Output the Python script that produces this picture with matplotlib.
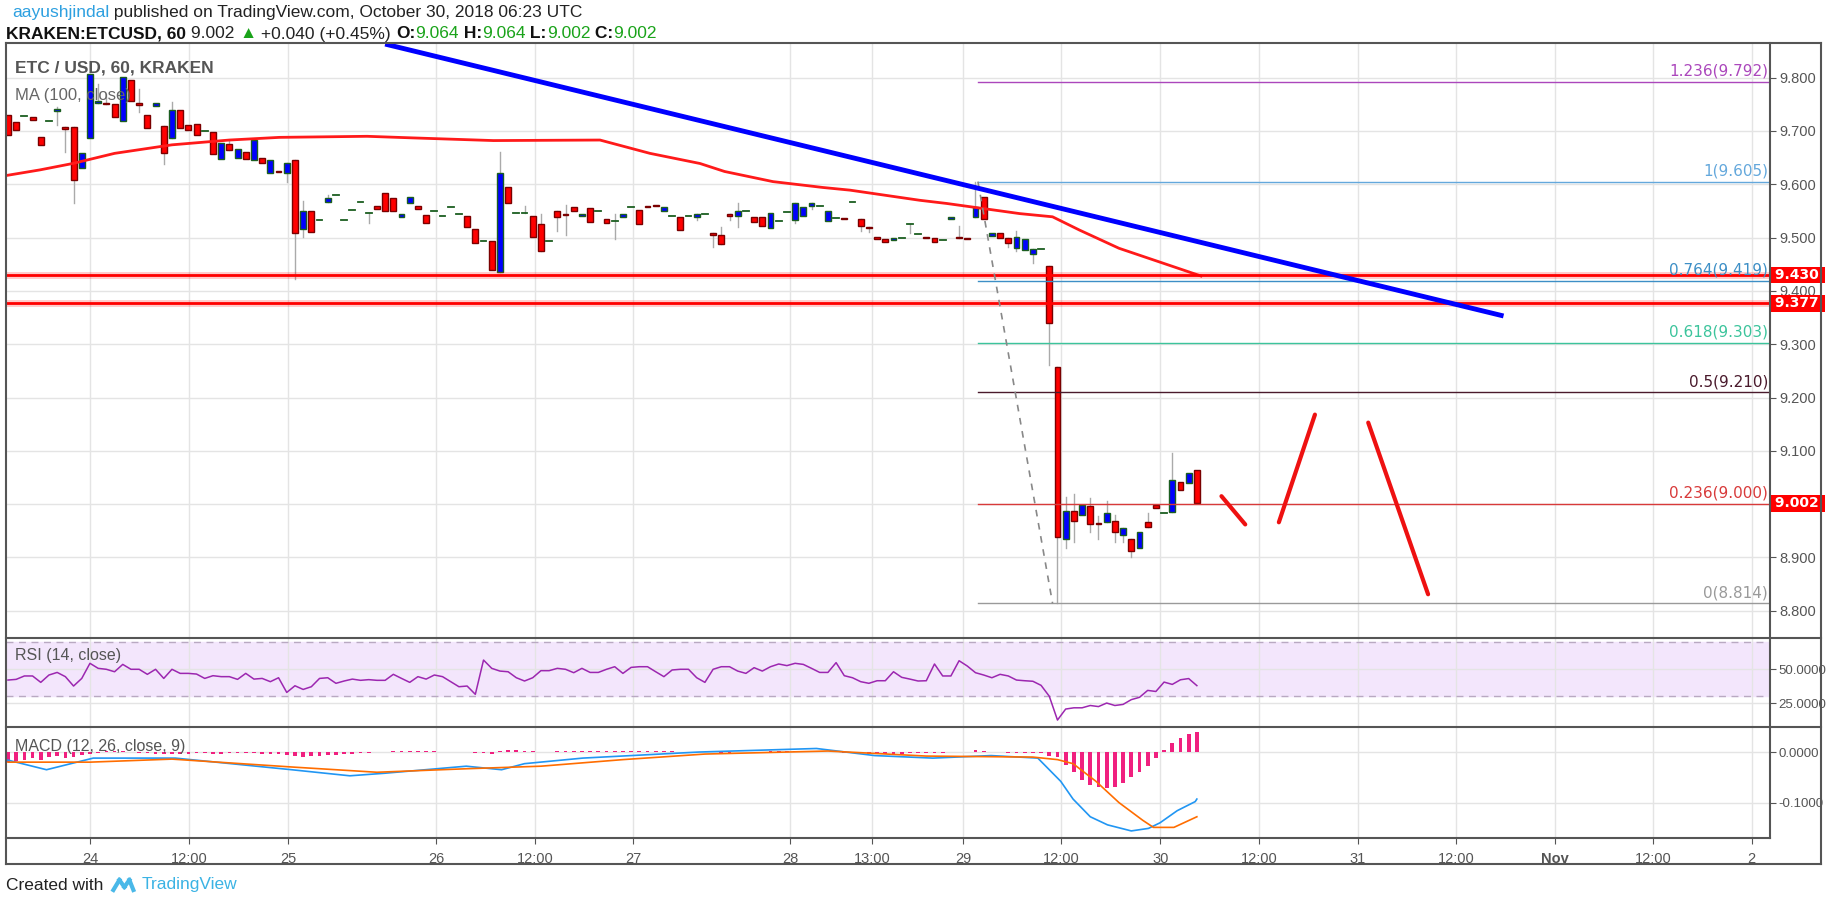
import numpy as np
import matplotlib
matplotlib.use('Agg')
from matplotlib import pyplot as plt
from matplotlib.patches import Rectangle
from matplotlib.lines import Line2D
from matplotlib import transforms

plt.rcParams['font.family'] = ['Liberation Sans Narrow', 'Liberation Sans', 'DejaVu Sans']

#
# Data (hourly candles, index 0 = first visible candle)
#
opens = [9.730, 9.717, 9.728, 9.727, 9.688, 9.719, 9.737, 9.707, 9.707, 9.630,
         9.686, 9.752, 9.752, 9.750, 9.719, 9.796, 9.752, 9.730, 9.746, 9.709,
         9.686, 9.740, 9.711, 9.713, 9.700, 9.699, 9.647, 9.675, 9.650, 9.660,
         9.646, 9.650, 9.622, 9.625, 9.622, 9.646, 9.516, 9.549, 9.533, 9.566,
         9.579, 9.533, 9.552, 9.567, 9.547, 9.560, 9.583, 9.574, 9.538, 9.564,
         9.559, 9.542, 9.550, 9.540, 9.558, 9.545, 9.540, 9.516, 9.493, 9.493,
         9.435, 9.595, 9.547, 9.547, 9.540, 9.525, 9.493, 9.550, 9.545, 9.557,
         9.540, 9.555, 9.550, 9.535, 9.532, 9.538, 9.558, 9.552, 9.560, 9.562,
         9.549, 9.540, 9.539, 9.540, 9.538, 9.544, 9.508, 9.504, 9.544, 9.540,
         9.550, 9.539, 9.539, 9.518, 9.532, 9.548, 9.533, 9.540, 9.559, 9.560,
         9.531, 9.536, 9.537, 9.566, 9.534, 9.520, 9.502, 9.497, 9.495, 9.500,
         9.525, 9.506, 9.501, 9.499, 9.495, 9.534, 9.501, 9.500, 9.538, 9.577,
         9.503, 9.508, 9.499, 9.480, 9.477, 9.470, 9.478, 9.447, 9.258, 8.934,
         8.988, 8.979, 8.996, 8.964, 8.966, 8.968, 8.943, 8.934, 8.917, 8.966,
         8.998, 8.983, 8.986, 9.041, 9.039, 9.064]
closes = [9.692, 9.702, 9.728, 9.720, 9.674, 9.719, 9.742, 9.703, 9.608, 9.658,
          9.807, 9.756, 9.750, 9.726, 9.801, 9.756, 9.749, 9.705, 9.752, 9.658,
          9.739, 9.705, 9.702, 9.692, 9.700, 9.656, 9.677, 9.664, 9.667, 9.647,
          9.683, 9.639, 9.646, 9.623, 9.639, 9.508, 9.549, 9.511, 9.533, 9.574,
          9.579, 9.533, 9.552, 9.567, 9.547, 9.553, 9.549, 9.550, 9.545, 9.576,
          9.553, 9.528, 9.550, 9.540, 9.558, 9.545, 9.519, 9.489, 9.493, 9.440,
          9.622, 9.564, 9.547, 9.547, 9.502, 9.474, 9.493, 9.539, 9.543, 9.549,
          9.545, 9.530, 9.550, 9.528, 9.532, 9.545, 9.558, 9.525, 9.557, 9.559,
          9.558, 9.540, 9.514, 9.540, 9.544, 9.544, 9.504, 9.488, 9.540, 9.549,
          9.550, 9.530, 9.522, 9.547, 9.532, 9.548, 9.564, 9.557, 9.564, 9.560,
          9.549, 9.536, 9.535, 9.566, 9.522, 9.518, 9.497, 9.492, 9.500, 9.500,
          9.525, 9.506, 9.499, 9.491, 9.495, 9.538, 9.499, 9.498, 9.558, 9.534,
          9.508, 9.500, 9.489, 9.502, 9.497, 9.478, 9.478, 9.339, 8.939, 8.987,
          8.968, 8.999, 8.963, 8.962, 8.984, 8.947, 8.956, 8.913, 8.947, 8.958,
          8.993, 8.983, 9.046, 9.026, 9.058, 9.002]
# wick ends that stick out of the body
wick_highs = {6: 9.745, 11: 9.789, 12: 9.770, 16: 9.778, 20: 9.755, 27: 9.684,
              36: 9.569, 39: 9.580, 60: 9.661, 63: 9.560, 65: 9.545, 68: 9.561,
              74: 9.545, 87: 9.519, 89: 9.564, 116: 9.522, 118: 9.605, 123: 9.512,
              129: 9.013, 130: 9.019, 132: 9.011, 133: 8.978, 134: 9.006,
              135: 8.979, 139: 8.983, 142: 9.096}
wick_lows = {6: 9.711, 7: 9.661, 8: 9.564, 16: 9.736, 19: 9.638, 34: 9.605,
             35: 9.422, 36: 9.502, 44: 9.527, 67: 9.512, 68: 9.505, 74: 9.497,
             84: 9.533, 86: 9.482, 88: 9.533, 89: 9.519, 96: 9.527, 98: 9.554,
             104: 9.513, 105: 9.511, 110: 9.509, 122: 9.482, 123: 9.474,
             125: 9.452, 127: 9.261, 128: 8.814, 129: 8.918, 130: 8.929,
             132: 8.948, 133: 8.934, 135: 8.929, 136: 8.929, 137: 8.900}

ma_x = [0, 3.9, 7.9, 13.0, 20.0, 27.0, 33.1, 43.8, 49.4, 59.2, 72.2, 78.3, 84.4,
        87.4, 93.3, 99.4, 102.7, 111.2, 114.5, 123.4, 127.4, 130.7, 135.5, 145.5]
ma_y = [9.617, 9.627, 9.639, 9.658, 9.674, 9.683, 9.688, 9.690, 9.687, 9.682,
        9.683, 9.658, 9.639, 9.624, 9.605, 9.594, 9.589, 9.570, 9.564, 9.545,
        9.539, 9.514, 9.480, 9.428]

trend_x = [46.0, 182.4]
trend_y = [9.863, 9.353]

support_levels = [9.430, 9.377]

fib_start = 118.3
fib_ratios = ['1.236', '1', '0.764', '0.618', '0.5', '0.236', '0']
fib_prices = [9.792, 9.605, 9.419, 9.303, 9.210, 9.000, 8.814]
fib_colors = ['#ab47bc', '#64a8dc', '#3d8fc6', '#3cc49c', '#4a1a2c', '#d83a3a', '#9a9a9a']

swing_x = [118.3, 127.4]
swing_y = [9.605, 8.814]

proj_x = [[148.0, 150.9], [155.0, 159.4], [165.9, 173.2]]
proj_y = [[9.015, 8.962], [8.966, 9.168], [9.153, 8.831]]

rsi = [41.9, 42.4, 44.9, 44.9, 40.2, 45.6, 47.5, 44.4, 37.5, 43.1,
       54.2, 50.5, 49.8, 48.0, 53.4, 49.8, 49.8, 46.1, 49.8, 43.1,
       49.8, 46.8, 46.8, 46.3, 43.1, 45.1, 44.4, 44.4, 42.4, 46.8,
       42.6, 43.1, 40.7, 43.6, 32.8, 37.7, 35.0, 37.0, 43.1, 43.6,
       39.5, 41.2, 42.6, 41.7, 42.2, 41.7, 41.7, 46.1, 43.1, 40.2,
       44.4, 42.6, 45.6, 44.4, 40.7, 37.0, 37.5, 31.4, 56.6, 50.5,
       48.5, 48.0, 43.6, 41.2, 43.6, 48.8, 48.8, 50.5, 49.8, 47.3,
       50.5, 47.5, 47.5, 49.8, 51.7, 46.8, 51.2, 51.7, 51.7, 48.0,
       44.4, 49.3, 49.8, 49.8, 43.6, 40.2, 49.8, 51.7, 51.7, 48.5,
       46.8, 51.0, 48.5, 51.7, 53.7, 52.5, 54.2, 53.4, 50.5, 47.5,
       47.5, 54.7, 45.1, 43.6, 40.7, 39.5, 41.4, 41.4, 48.0, 43.9,
       42.6, 41.2, 41.4, 53.7, 44.9, 44.9, 56.1, 52.2, 47.3, 45.6,
       43.6, 46.1, 44.9, 41.9, 41.4, 41.0, 38.0, 30.0, 12.5, 20.6,
       21.5, 21.5, 23.2, 22.4, 25.0, 23.2, 24.0, 27.5, 29.2, 34.3,
       33.5, 40.4, 38.7, 42.1, 43.0, 37.8]

macd_x = [0, 4.7, 10.4, 20.4, 34.6, 41.7, 45.9, 55.9, 60.2, 63.0, 70.1, 84.3,
          98.6, 105.7, 112.8, 119.9, 125.6, 127.0, 128.4, 129.9, 132.0, 134.1,
          137.0, 139.1, 140.5, 142.6, 144.8, 145.0]
macd_y = [-0.016, -0.035, -0.012, -0.012, -0.035, -0.047, -0.042, -0.028, -0.035,
          -0.023, -0.012, 0.000, 0.007, -0.007, -0.012, -0.007, -0.012, -0.035,
          -0.058, -0.093, -0.128, -0.144, -0.156, -0.151, -0.140, -0.116, -0.098,
          -0.093]
signal_x = [0, 10, 20, 35, 45, 56, 65, 75, 85, 100, 112, 125, 128, 129.9, 132.7,
            135.5, 138.4, 139.7, 142.2, 145.0]
signal_y = [-0.020, -0.020, -0.014, -0.030, -0.040, -0.033, -0.028, -0.015, -0.004,
            0.002, -0.008, -0.010, -0.015, -0.023, -0.058, -0.100, -0.135, -0.149,
            -0.149, -0.128]
macd_hist = [-0.020, -0.018, -0.015, -0.012, -0.015, -0.010, -0.008, -0.012, -0.010, -0.006,
             -0.004, -0.002, 0.002, 0.003, 0.002, 0.001, -0.001, -0.002, -0.003, -0.004,
             -0.004, -0.003, -0.003, -0.002, -0.002, -0.003, -0.003, -0.002, -0.002, -0.002,
             -0.002, -0.003, -0.004, -0.004, -0.005, -0.008, -0.009, -0.008, -0.007, -0.006,
             -0.005, -0.004, -0.003, -0.002, -0.001, 0.000, 0.001, 0.002, 0.002, 0.002,
             0.002, 0.002, 0.002, 0.001, 0.001, 0.001, 0.000, -0.001, -0.002, -0.003,
             0.003, 0.004, 0.004, 0.003, 0.002, 0.001, 0.001, 0.002, 0.002, 0.002,
             0.002, 0.002, 0.002, 0.002, 0.002, 0.002, 0.002, 0.002, 0.002, 0.002,
             0.002, 0.002, 0.001, 0.001, 0.001, 0.001, 0.000, -0.001, -0.001, 0.000,
             0.001, 0.001, 0.001, 0.002, 0.002, 0.002, 0.003, 0.003, 0.003, 0.002,
             0.001, 0.000, -0.001, -0.001, -0.002, -0.003, -0.003, -0.003, -0.003, -0.003,
             -0.002, -0.002, -0.002, -0.002, -0.002, 0.001, 0.001, 0.001, 0.004, 0.002,
             0.001, 0.000, -0.001, -0.002, -0.001, -0.002, -0.002, -0.008,
             -0.010, -0.025, -0.040, -0.055, -0.065, -0.070, -0.072, -0.070, -0.062, -0.050,
             -0.040, -0.028, -0.012, 0.005, 0.018, 0.028, 0.035, 0.040]

tick_pos = [10.0, 22.07, 34.15, 52.2, 64.27, 76.22, 95.37, 105.37, 116.52, 128.41,
            140.55, 152.63, 164.63, 176.59, 188.66, 200.67, 212.68]
tick_labels = ['24', '12:00', '25', '26', '12:00', '27', '28', '13:00', '29', '12:00',
               '30', '12:00', '31', '12:00', 'Nov', '12:00', '2']

#
# Layout (pixel based, figure is 1828x899)
#
W, H = 1828, 899
fig = plt.figure(figsize=(W / 100, H / 100), dpi=100)


def box(x0, y0, x1, y1):
    return [x0 / W, 1 - y1 / H, (x1 - x0) / W, (y1 - y0) / H]


ax = fig.add_axes(box(6, 43, 1770, 638))
ax_rsi = fig.add_axes(box(6, 638, 1770, 727), sharex=ax)
ax_macd = fig.add_axes(box(6, 727, 1770, 838), sharex=ax)

grid_c = '#e4e4e4'
tick_c = '#555555'
for a in (ax, ax_rsi, ax_macd):
    for s in a.spines.values():
        s.set_visible(False)
    a.yaxis.tick_right()
    a.tick_params(axis='y', length=4, color=tick_c, labelcolor=tick_c, labelsize=10.5, pad=3)
    a.tick_params(axis='x', length=0)
    a.grid(True, color=grid_c, lw=1)
    a.set_axisbelow(True)
    a.set_xticks(tick_pos)
for a in (ax_rsi, ax_macd):
    a.tick_params(axis='y', labelsize=9.5, pad=2)

ax.set_xlim(-0.24, 214.9)
ax.set_ylim(8.749, 9.865)
ax.set_yticks(np.arange(8.8, 9.81, 0.1))
ax.set_yticklabels(['%.3f' % v for v in np.arange(8.8, 9.81, 0.1)])
plt.setp(ax.get_xticklabels(), visible=False)
plt.setp(ax_rsi.get_xticklabels(), visible=False)

# candles
idx = np.arange(len(opens))
bw = 0.72
for i, o, c in zip(idx, opens, closes):
    hi = wick_highs.get(i, max(o, c))
    lo = wick_lows.get(i, min(o, c))
    if hi > max(o, c) or lo < min(o, c):
        ax.plot([i, i], [lo, hi], color='#aaaaaa', lw=1, zorder=2)
    if o == c:
        ax.plot([i - bw / 2, i + bw / 2], [o, o], color='#1b5e20', lw=1.3, zorder=3)
        continue
    up = c > o
    ax.add_patch(Rectangle((i - bw / 2, min(o, c)), bw, abs(c - o),
                           facecolor='#0000ff' if up else '#ff0000',
                           edgecolor='#1b5e20' if up else '#7a0000', lw=1, zorder=3))

ax.plot(ma_x, ma_y, color='#ff1a1a', lw=2, zorder=4)
ax.plot(trend_x, trend_y, color='#0000ff', lw=3.5, zorder=5, solid_capstyle='butt')

for lv in support_levels:
    ax.axhline(lv, color='#ff0000', lw=2, zorder=4)
    ax.axhline(lv, color='#ff0000', lw=5, alpha=0.2, zorder=4)

xr = ax.get_xlim()[1]
for r, p, col in zip(fib_ratios, fib_prices, fib_colors):
    ax.plot([fib_start, xr], [p, p], color=col, lw=1, zorder=3)
    ax.text(1762 / 1764 * (xr + 0.24) - 0.24, p + 0.006, '%s(%.3f)' % (r, p), color=col,
            ha='right', va='bottom', fontsize=11, family='DejaVu Sans', zorder=6)
ax.plot(swing_x, swing_y, color='#888888', lw=1.2, ls=(0, (4, 4)), zorder=4)

for px, py in zip(proj_x, proj_y):
    ax.plot(px, py, color='#ee1111', lw=3, zorder=5, solid_capstyle='round')

blend = transforms.blended_transform_factory(ax.transAxes, ax.transData)
for v in [9.430, 9.377, 9.002]:
    ax.text(1.0, v, ' %.3f ' % v, transform=blend, ha='left', va='center', color='white',
            fontsize=10, fontweight='bold', family='DejaVu Sans', zorder=10, clip_on=False,
            bbox=dict(boxstyle='square,pad=0.1', fc='#ff0000', ec='none'))

ax.text(0.005, 0.97, 'ETC / USD, 60, KRAKEN', transform=ax.transAxes, fontsize=12.5,
        fontweight='bold', color='#555555', va='top')
ax.text(0.005, 0.925, 'MA (100, close)', transform=ax.transAxes, fontsize=12,
        color='#666666', va='top')

# RSI
ax_rsi.set_ylim(7.4, 72.8)
ax_rsi.axhspan(30, 70, color='#f3e6fc', zorder=0)
for lv in (30, 70):
    ax_rsi.axhline(lv, color='#b9a9c2', lw=1, ls=(0, (5, 4)))
ax_rsi.plot(idx, rsi, color='#9c27b0', lw=1.1)
ax_rsi.set_yticks([25, 50])
ax_rsi.set_yticklabels(['25.0000', '50.0000'])
ax_rsi.text(0.005, 0.75, 'RSI (14, close)', transform=ax_rsi.transAxes, fontsize=11.5,
            color='#555555')

# MACD
ax_macd.set_ylim(-0.170, 0.0495)
ax_macd.bar(idx, macd_hist, width=0.45, color='#f0207f', zorder=2)
ax_macd.plot(macd_x, macd_y, color='#2196f3', lw=1.2, zorder=3)
ax_macd.plot(signal_x, signal_y, color='#ff6d00', lw=1.2, zorder=3)
ax_macd.set_yticks([-0.1, 0.0])
ax_macd.set_yticklabels(['-0.1000', '0.0000'])
ax_macd.set_xticklabels(tick_labels)
ax_macd.tick_params(axis='x', length=4, color=tick_c, labelcolor=tick_c, labelsize=10.5, pad=6)
for t in ax_macd.get_xticklabels():
    if t.get_text() == 'Nov':
        t.set_fontweight('bold')
ax_macd.text(0.005, 0.78, 'MACD (12, 26, close, 9)', transform=ax_macd.transAxes,
             fontsize=11.5, color='#555555')


# frame lines in pixel coords
def pline(x0, y0, x1, y1, **kw):
    fig.add_artist(Line2D([x0 / W, x1 / W], [1 - y0 / H, 1 - y1 / H], **kw))


fc = '#555555'
pline(6, 43, 1821, 43, color=fc, lw=1.5)
pline(6, 864, 1821, 864, color=fc, lw=1.5)
pline(6, 43, 6, 864, color=fc, lw=1.5)
pline(1821, 43, 1821, 864, color=fc, lw=1.5)
pline(6, 638, 1821, 638, color=fc, lw=1.5)
pline(6, 727, 1821, 727, color=fc, lw=1.5)
pline(6, 838, 1770, 838, color=fc, lw=1.5)
pline(1770, 43, 1770, 838, color=fc, lw=1.5)

# header
renderer = fig.canvas.get_renderer()


def chain(x, y, parts, size):
    for txt, col, bold in parts:
        t = fig.text(x / W, 1 - y / H, txt, color=col, fontsize=size, va='center',
                     fontweight='bold' if bold else 'normal')
        x += t.get_window_extent(renderer).width
    return x


green = '#1aa31a'
chain(12, 13, [('aayushjindal', '#2ea0e0', False),
               (' published on TradingView.com, October 30, 2018 06:23 UTC', '#222222', False)], 12.5)
chain(6, 34, [('KRAKEN:ETCUSD, 60', '#111111', True), (' 9.002 ', '#222222', False),
              ('\u25b2', green, False), (' +0.040 (+0.45%) ', '#222222', False),
              ('O:', '#111111', True), ('9.064', green, False),
              (' H:', '#111111', True), ('9.064', green, False),
              (' L:', '#111111', True), ('9.002', green, False),
              (' C:', '#111111', True), ('9.002', green, False)], 12.5)

xe = chain(6, 885, [('Created with', '#222222', False)], 12.5)
lx = xe + 10
pline(lx, 890, lx + 6, 880, color='#4ab8e8', lw=3)
pline(lx + 6, 880, lx + 11, 887, color='#4ab8e8', lw=3)
pline(lx + 11, 887, lx + 16, 880, color='#4ab8e8', lw=3)
pline(lx + 16, 880, lx + 20, 890, color='#4ab8e8', lw=3)
fig.text((lx + 28) / W, 1 - 885 / H, 'TradingView', color='#3bb3e4', fontsize=12.5, va='center')

fig.savefig('out.png', dpi=100)
